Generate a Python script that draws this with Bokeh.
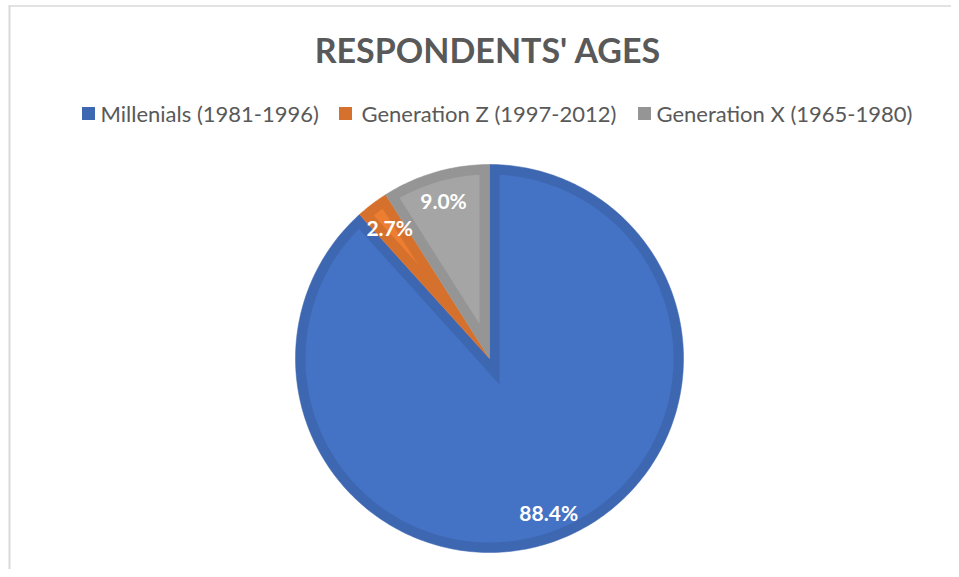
import math
from bokeh.plotting import figure
from bokeh.models import Range1d
from bokeh.embed import file_html
from bokeh.resources import INLINE
from bokeh.core.properties import value

# ---- data ----
categories = ["Millenials (1981-1996)", "Generation Z (1997-2012)", "Generation X (1965-1980)"]
shares = [88.4, 2.7, 9.0]
pct_labels = ["88.4%", "2.7%", "9.0%"]
title_text = "RESPONDENTS' AGES"

# ---- styles ----
FILL = ["#4472C4", "#ED7D31", "#A5A5A5"]
EDGE = ["#3E67B1", "#D6712D", "#959595"]
FONT = "Lato"
TEXT_COLOR = "#595959"

# ---- layout (screen pixels) ----
W, H = 951, 569
CX, CY, R, D = 489.0, 358.0, 194.0, 10.0
LABEL_R = 165.0
LEG_Y = 113
LEG_SQ_X = [88, 345, 644]
LEG_TX_X = [100, 361, 656]

p = figure(width=W, height=H, x_range=Range1d(0, W), y_range=Range1d(H, 0),
           output_backend="svg", toolbar_location=None, min_border=0,
           x_axis_type=None, y_axis_type=None)
p.grid.visible = False
p.outline_line_color = None
p.background_fill_color = "white"
p.border_fill_color = "white"

# chart frame (top and left edges visible)
p.segment(x0=[8, 9], y0=[5.5, 5], x1=[W, 9], y1=[5.5, H], line_color="#D9D9D9", line_width=[1.5, 2])


def pt(theta, r):
    return CX + r * math.sin(theta), CY - r * math.cos(theta)


def arc(a0, a1, r):
    n = max(6, int(abs(a1 - a0) / math.radians(1)) + 1)
    xs, ys = [], []
    for k in range(n + 1):
        t = a0 + (a1 - a0) * k / n
        x, y = pt(t, r)
        xs.append(x)
        ys.append(y)
    return xs, ys


total = sum(shares)
outer_x, outer_y, inner_x, inner_y = [], [], [], []
lab_x, lab_y = [], []
cum = 0.0
for s in shares:
    a0 = 2 * math.pi * cum / total
    a1 = 2 * math.pi * (cum + s) / total
    cum += s
    ax, ay = arc(a0, a1, R)
    outer_x.append([CX] + ax)
    outer_y.append([CY] + ay)
    half = (a1 - a0) / 2
    mid = (a0 + a1) / 2
    apx, apy = pt(mid, D / math.sin(half))
    delta = math.asin(D / (R - D))
    bx, by = arc(a0 + delta, a1 - delta, R - D)
    inner_x.append([apx] + bx)
    inner_y.append([apy] + by)
    lx, ly = pt(mid, LABEL_R)
    lab_x.append(lx)
    lab_y.append(ly)

p.patches(xs=outer_x, ys=outer_y, fill_color=EDGE, line_color=EDGE, line_width=0.5)
p.patches(xs=inner_x, ys=inner_y, fill_color=FILL, line_color=None)

p.text(x=lab_x, y=lab_y, text=pct_labels, text_align="center", text_baseline="middle",
       text_color="white", text_font=value(FONT), text_font_style="bold", text_font_size="21px")

# title
p.text(x=[487.5], y=[49], text=[title_text], text_align="center", text_baseline="middle",
       text_color=TEXT_COLOR, text_font=value(FONT), text_font_style="bold", text_font_size="34px")

# legend
p.rect(x=LEG_SQ_X, y=[LEG_Y] * 3, width=13, height=13, fill_color=EDGE, line_color=None)
p.text(x=LEG_TX_X, y=[LEG_Y] * 3, text=categories, text_align="left", text_baseline="middle",
       text_color=TEXT_COLOR, text_font=value(FONT), text_font_size="22px")

open("out.html", "w").write(file_html(p, INLINE))
